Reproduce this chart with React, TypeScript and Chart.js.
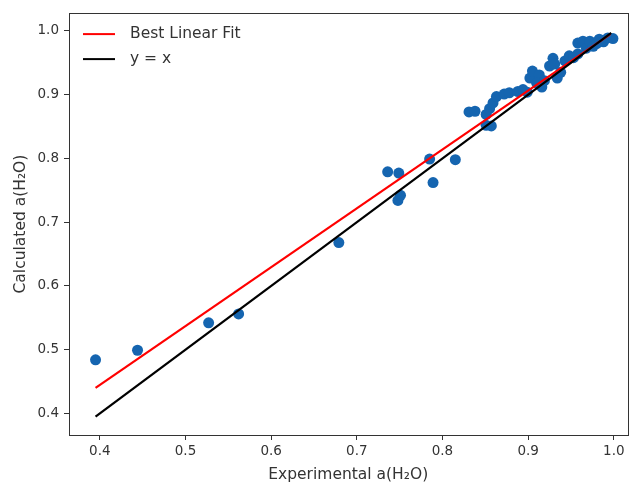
import React, { useEffect, useRef } from "react";
import { Chart, registerables } from "chart.js";

Chart.register(...registerables);

// Experimental vs calculated water activity
const experimental = [
  0.395, 0.444, 0.527, 0.562, 0.679, 0.736, 0.749, 0.748, 0.751, 0.785,
  0.789, 0.815, 0.831, 0.838, 0.851, 0.857, 0.851, 0.855, 0.859, 0.863,
  0.872, 0.878, 0.888, 0.894, 0.899, 0.902, 0.905, 0.913, 0.910, 0.916,
  0.919, 0.925, 0.929, 0.931, 0.934, 0.938, 0.943, 0.948, 0.953, 0.958,
  0.958, 0.964, 0.968, 0.972, 0.976, 0.980, 0.983, 0.988, 0.993, 0.999,
];
const calculated = [
  0.484, 0.499, 0.542, 0.556, 0.668, 0.779, 0.777, 0.734, 0.742, 0.799,
  0.762, 0.798, 0.873, 0.874, 0.852, 0.851, 0.869, 0.878, 0.887, 0.897,
  0.901, 0.903, 0.905, 0.908, 0.904, 0.926, 0.937, 0.931, 0.918, 0.912,
  0.922, 0.945, 0.957, 0.948, 0.926, 0.935, 0.953, 0.961, 0.958, 0.964,
  0.981, 0.984, 0.973, 0.984, 0.976, 0.980, 0.987, 0.983, 0.989, 0.988,
];

const fitX = [0.395, 0.996];
const fitY = [0.44, 0.995];
const identX = [0.395, 0.997];
const identY = [0.395, 0.997];

const xTicks = [0.4, 0.5, 0.6, 0.7, 0.8, 0.9, 1.0];
const yTicks = [0.4, 0.5, 0.6, 0.7, 0.8, 0.9, 1.0];

const legendLabels = ["Best Linear Fit", "y = x"];
const legendColors = ["#ff0000", "#000000"];

const FONT = "'DejaVu Sans', sans-serif";
const TEXT = "#333333";

export default function App() {
  const ref = useRef<HTMLCanvasElement | null>(null);

  useEffect(() => {
    const canvas = ref.current;
    if (!canvas) return;

    const framePlugin = {
      id: "frame",
      afterDraw(chart: any) {
        const { ctx, chartArea } = chart;
        ctx.save();
        ctx.strokeStyle = "#333333";
        ctx.lineWidth = 1;
        ctx.strokeRect(
          Math.round(chartArea.left) + 0.5,
          Math.round(chartArea.top) + 0.5,
          Math.round(chartArea.right - chartArea.left),
          Math.round(chartArea.bottom - chartArea.top)
        );
        // legend
        ctx.font = `15.5px ${FONT}`;
        ctx.textBaseline = "middle";
        ctx.textAlign = "left";
        legendLabels.forEach((lab, i) => {
          const y = chartArea.top + 21 + i * 25;
          ctx.strokeStyle = legendColors[i];
          ctx.lineWidth = 2;
          ctx.beginPath();
          ctx.moveTo(chartArea.left + 14, y);
          ctx.lineTo(chartArea.left + 46, y);
          ctx.stroke();
          ctx.fillStyle = TEXT;
          ctx.fillText(lab, chartArea.left + 61, y);
        });
        ctx.restore();
      },
    };

    const chart = new Chart(canvas, {
      type: "scatter",
      data: {
        datasets: [
          {
            type: "line",
            label: legendLabels[1],
            data: identX.map((x, i) => ({ x, y: identY[i] })),
            borderColor: legendColors[1],
            borderWidth: 2.2,
            pointRadius: 0,
            order: 0,
          },
          {
            type: "line",
            label: legendLabels[0],
            data: fitX.map((x, i) => ({ x, y: fitY[i] })),
            borderColor: legendColors[0],
            borderWidth: 2.2,
            pointRadius: 0,
            order: 1,
          },
          {
            label: "data",
            data: experimental.map((x, i) => ({ x, y: calculated[i] })),
            backgroundColor: "#1565b0",
            borderWidth: 0,
            pointRadius: 5.5,
            order: 2,
          },
        ],
      },
      options: {
        animation: false,
        responsive: false,
        devicePixelRatio: 1,
        layout: { padding: { left: 0, top: 12, right: 3, bottom: 0 } },
        plugins: { legend: { display: false }, tooltip: { enabled: false } },
        scales: {
          x: {
            type: "linear",
            min: 0.364,
            max: 1.016,
            afterBuildTicks: (s: any) => {
              s.ticks = xTicks.map((v) => ({ value: v }));
            },
            afterFit: (s: any) => {
              s.height = 51;
            },
            grid: {
              drawOnChartArea: false,
              drawTicks: true,
              tickLength: 5,
              color: "#333333",
            },
            border: { display: true, color: "#333333" },
            ticks: {
              color: TEXT,
              font: { family: FONT, size: 13.5 },
              padding: 3,
              callback: (v: any) => Number(v).toFixed(1),
            },
            title: {
              display: true,
              text: "Experimental a(H₂O)",
              color: TEXT,
              font: { family: FONT, size: 15.5 },
              padding: { top: 0, bottom: 2 },
            },
          },
          y: {
            type: "linear",
            min: 0.366,
            max: 1.028,
            afterBuildTicks: (s: any) => {
              s.ticks = yTicks.map((v) => ({ value: v }));
            },
            afterFit: (s: any) => {
              s.width = 69;
            },
            grid: {
              drawOnChartArea: false,
              drawTicks: true,
              tickLength: 5,
              color: "#333333",
            },
            border: { display: true, color: "#333333" },
            ticks: {
              color: TEXT,
              font: { family: FONT, size: 13.5 },
              padding: 5,
              callback: (v: any) => Number(v).toFixed(1),
            },
            title: {
              display: true,
              text: "Calculated a(H₂O)",
              color: TEXT,
              font: { family: FONT, size: 15.5 },
              padding: { top: 12, bottom: 0 },
            },
          },
        },
      },
      plugins: [framePlugin],
    });

    return () => chart.destroy();
  }, []);

  return (
    <div style={{ position: "fixed", left: 0, top: 0, width: 633, height: 486, background: "#fff" }}>
      <canvas ref={ref} width={633} height={486} style={{ width: 633, height: 486 }} />
    </div>
  );
}
